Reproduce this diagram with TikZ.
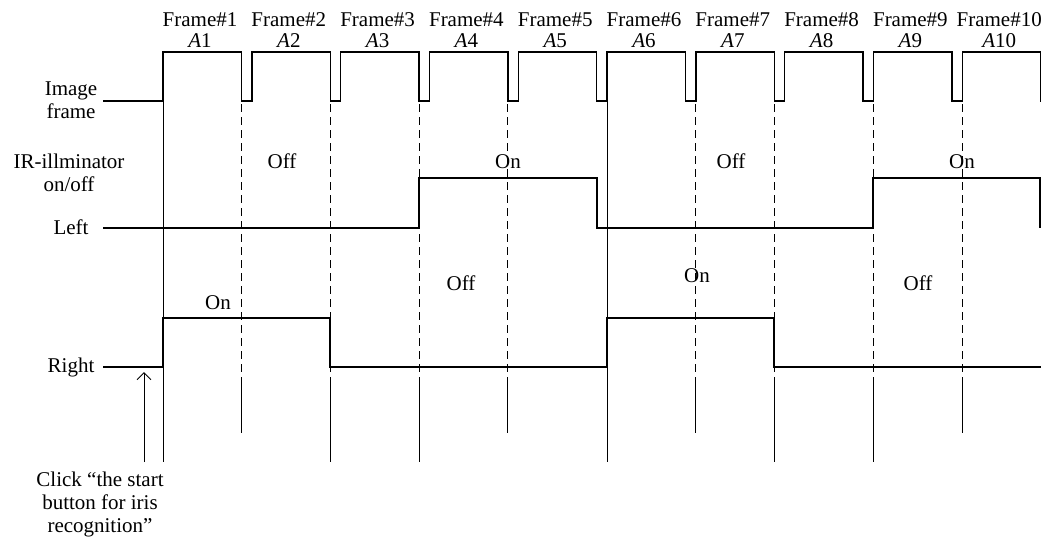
\documentclass[tikz,border=0pt]{standalone}
\usepackage{fontspec}
\setmainfont{Liberation Serif}
\usetikzlibrary{arrows.meta}

\tikzset{
    signal/.style={line width=0.7pt},
    gridline/.style={line width=0.5pt, dash pattern=on 4pt off 2.5pt},
    tick/.style={line width=0.5pt},
    lbl/.style={inner sep=0pt, anchor=base, align=center}
}

\begin{document}
\begin{tikzpicture}[>={Straight Barb[length=3.5pt,width=7pt]}, x=0.5pt, y=-0.5pt, font=\fontsize{10.5}{11.5}\selectfont]

        % fixed page size (coordinates in pixels, y grows downwards)
        \useasboundingbox (0,0) rectangle (1041,538);

        % The labels on the left (base = last line)
        \node[lbl] (image) at (71, 95) {Image};
        \node[lbl] (frame) at (71, 118) {frame};
        \node[lbl] (ir) at (69, 191) {IR-illminator\\on/off};
        \node[lbl] (left) at (71, 234) {Left};
        \node[lbl] (right) at (71, 372) {Right};

        % The frame numbers above the pulses
        \foreach \i in {1,...,10}
        {
            \node[lbl] (frame\i) at ({200+88.8*(\i-1)}, 26) {Frame\#\i};
            \node[lbl] (a\i) at ({200+88.8*(\i-1)}, 47) {\textit{A}\i};
        }

        % the image frame pulses
        \draw[signal] (103,101) -- (163,101)
            \foreach \i in {1,...,10} { -- ++(0,-49) -- ++(78.5,0) -- ++(0,49) -- ++(10.3,0) };

        % IR-illuminator for the left eye
        \draw[signal] (103,228) -- (419,228) -- (419,178) -- (597,178) -- (597,228)
            -- (873,228) -- (873,178) -- (1040,178) -- (1040,228);

        % IR-illuminator for the right eye
        \draw[signal] (103,367) -- (163,367) -- (163,318) -- (330,318) -- (330,367)
            -- (607,367) -- (607,318) -- (774,318) -- (774,367) -- (1041,367);

        % the two solid vertical lines
        \draw[tick] (163,101) -- (163,462);
        \draw[tick] (607,101) -- (607,462);

        % the dashed vertical lines with their solid ends
        \foreach \x/\e in {241.5/433, 330.3/462, 419.1/462, 507.9/433,
                           695.8/433, 774.3/462, 873.4/462, 962.2/433}
        {
            \draw[gridline] (\x,104) -- (\x,385);
            \draw[tick] (\x,385) -- (\x,\e);
        }

        % On / Off labels of the left eye
        \node[lbl] (off1) at (282, 168) {Off};
        \node[lbl] (on1) at (508, 168) {On};
        \node[lbl] (off2) at (731, 168) {Off};
        \node[lbl] (on2) at (962, 168) {On};

        % On / Off labels of the right eye
        \node[lbl] (on3) at (218, 309) {On};
        \node[lbl] (off3) at (461, 290) {Off};
        \node[lbl] (on4) at (697, 282) {On};
        \node[lbl] (off4) at (918, 290) {Off};

        % The start button label and its arrow
        \node[lbl] (click) at (100, 532) {Click “the start\\button for iris\\recognition”};
        \coordinate (clickpt) at (144, 462);
        \coordinate (rightpt) at (144, 372);
        \draw[->, tick] (clickpt) -- (rightpt);
\end{tikzpicture}
\end{document}
